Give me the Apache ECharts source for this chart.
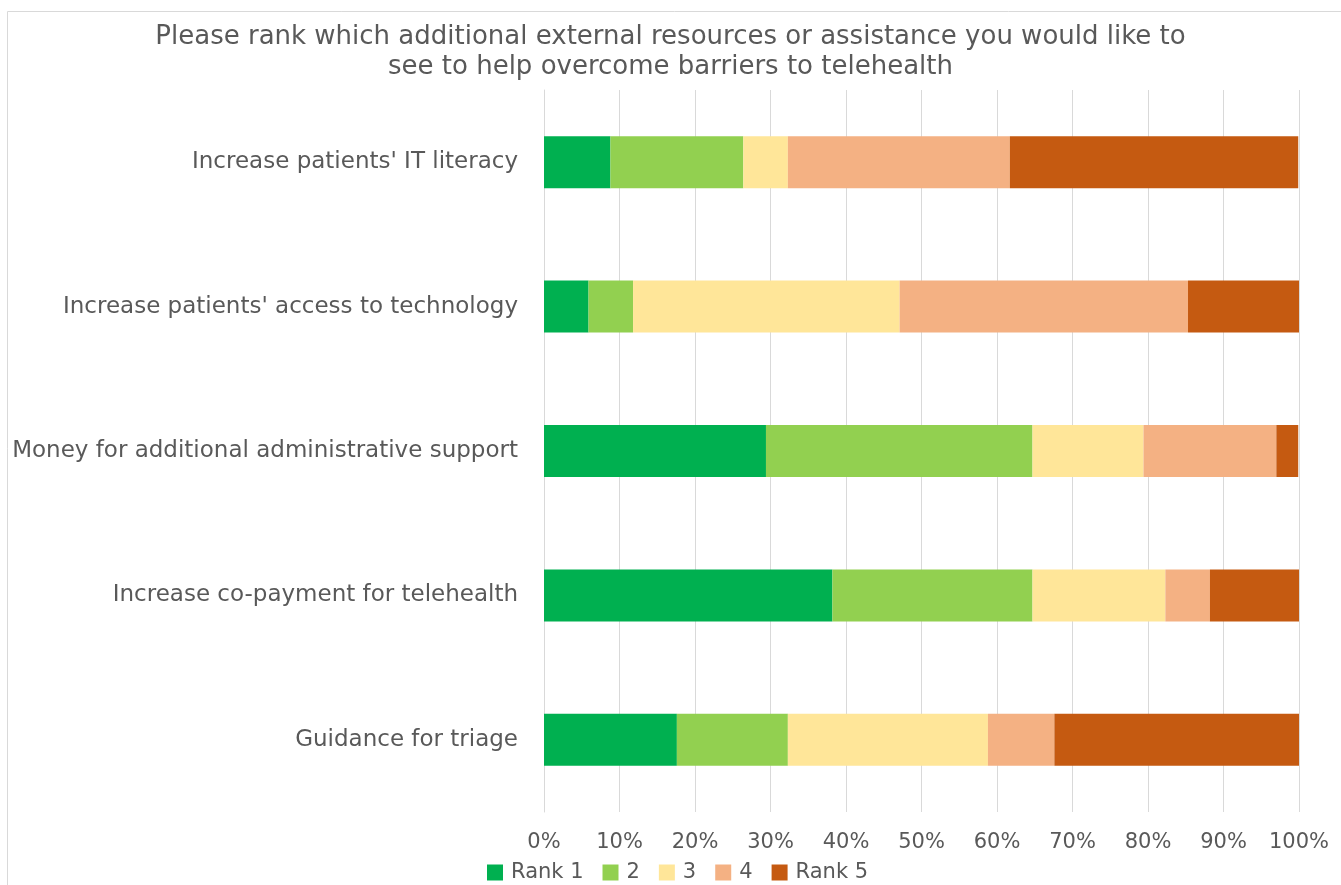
<!DOCTYPE html>
<html><head><meta charset="utf-8">
<script src="https://cdn.jsdelivr.net/npm/echarts@6/dist/echarts.min.js"></script>
<style>html,body{margin:0;padding:0;background:#fff}#c{width:1341px;height:885px}</style>
</head><body><div id="c"></div>
<script>
const titleText = "Please rank which additional external resources or assistance you would like to\nsee to help overcome barriers to telehealth";
const categories = ["Increase patients' IT literacy","Increase patients' access to technology","Money for additional administrative support","Increase co-payment for telehealth","Guidance for triage"];
const seriesNames = ["Rank 1","2","3","4","Rank 5"];
const colors = ["#00B050","#92D050","#FFE699","#F4B183","#C55A11"];
const rank1 = [8.8, 5.9, 29.4, 38.2, 17.6];
const rank2 = [17.6, 5.9, 35.3, 26.5, 14.7];
const rank3 = [5.9, 35.3, 14.7, 17.6, 26.5];
const rank4 = [29.4, 38.2, 17.6, 5.9, 8.8];
const rank5 = [38.2, 14.7, 2.9, 11.8, 32.4];
const xTicks = [0,10,20,30,40,50,60,70,80,90,100];

const allData = [rank1, rank2, rank3, rank4, rank5];
const chart = echarts.init(document.getElementById('c'), null, {renderer:'canvas'});
const labelColor = '#595959';
const font = '"DejaVu Sans", sans-serif';
chart.setOption({
  animation:false,
  graphic:[{type:'rect', shape:{x:7.5,y:11.5,width:1400,height:900}, style:{fill:'none', stroke:'#D9D9D9', lineWidth:1}, silent:true}],
  title:{text:titleText, left:'center', top:17, textStyle:{fontFamily:font, fontSize:26, fontWeight:'normal', color:labelColor, lineHeight:30}},
  grid:{left:544, right:42, top:90, bottom:73, containLabel:false},
  legend:{top:862, left:487, padding:0, itemWidth:16, itemHeight:16, itemGap:19, icon:'rect', textStyle:{fontFamily:font, fontSize:21, color:labelColor, padding:[0,0,0,3]}, data:seriesNames},
  xAxis:{type:'value', min:0, max:100, interval:10,
    axisLabel:{formatter:v=>v+'%', fontFamily:font, fontSize:21, color:labelColor, margin:20},
    splitLine:{lineStyle:{color:'#D9D9D9', width:1}}, axisLine:{show:false}, axisTick:{show:false}},
  yAxis:{type:'category', inverse:true, data:categories,
    axisLabel:{fontFamily:font, fontSize:23, color:labelColor, margin:26, padding:[3,0,0,0]},
    axisLine:{show:true, lineStyle:{color:'#D9D9D9'}}, axisTick:{show:false}},
  series: seriesNames.map((n,i)=>({name:n, type:'bar', stack:'total', barWidth:52, data:allData[i], itemStyle:{color:colors[i]}}))
});
</script></body></html>
